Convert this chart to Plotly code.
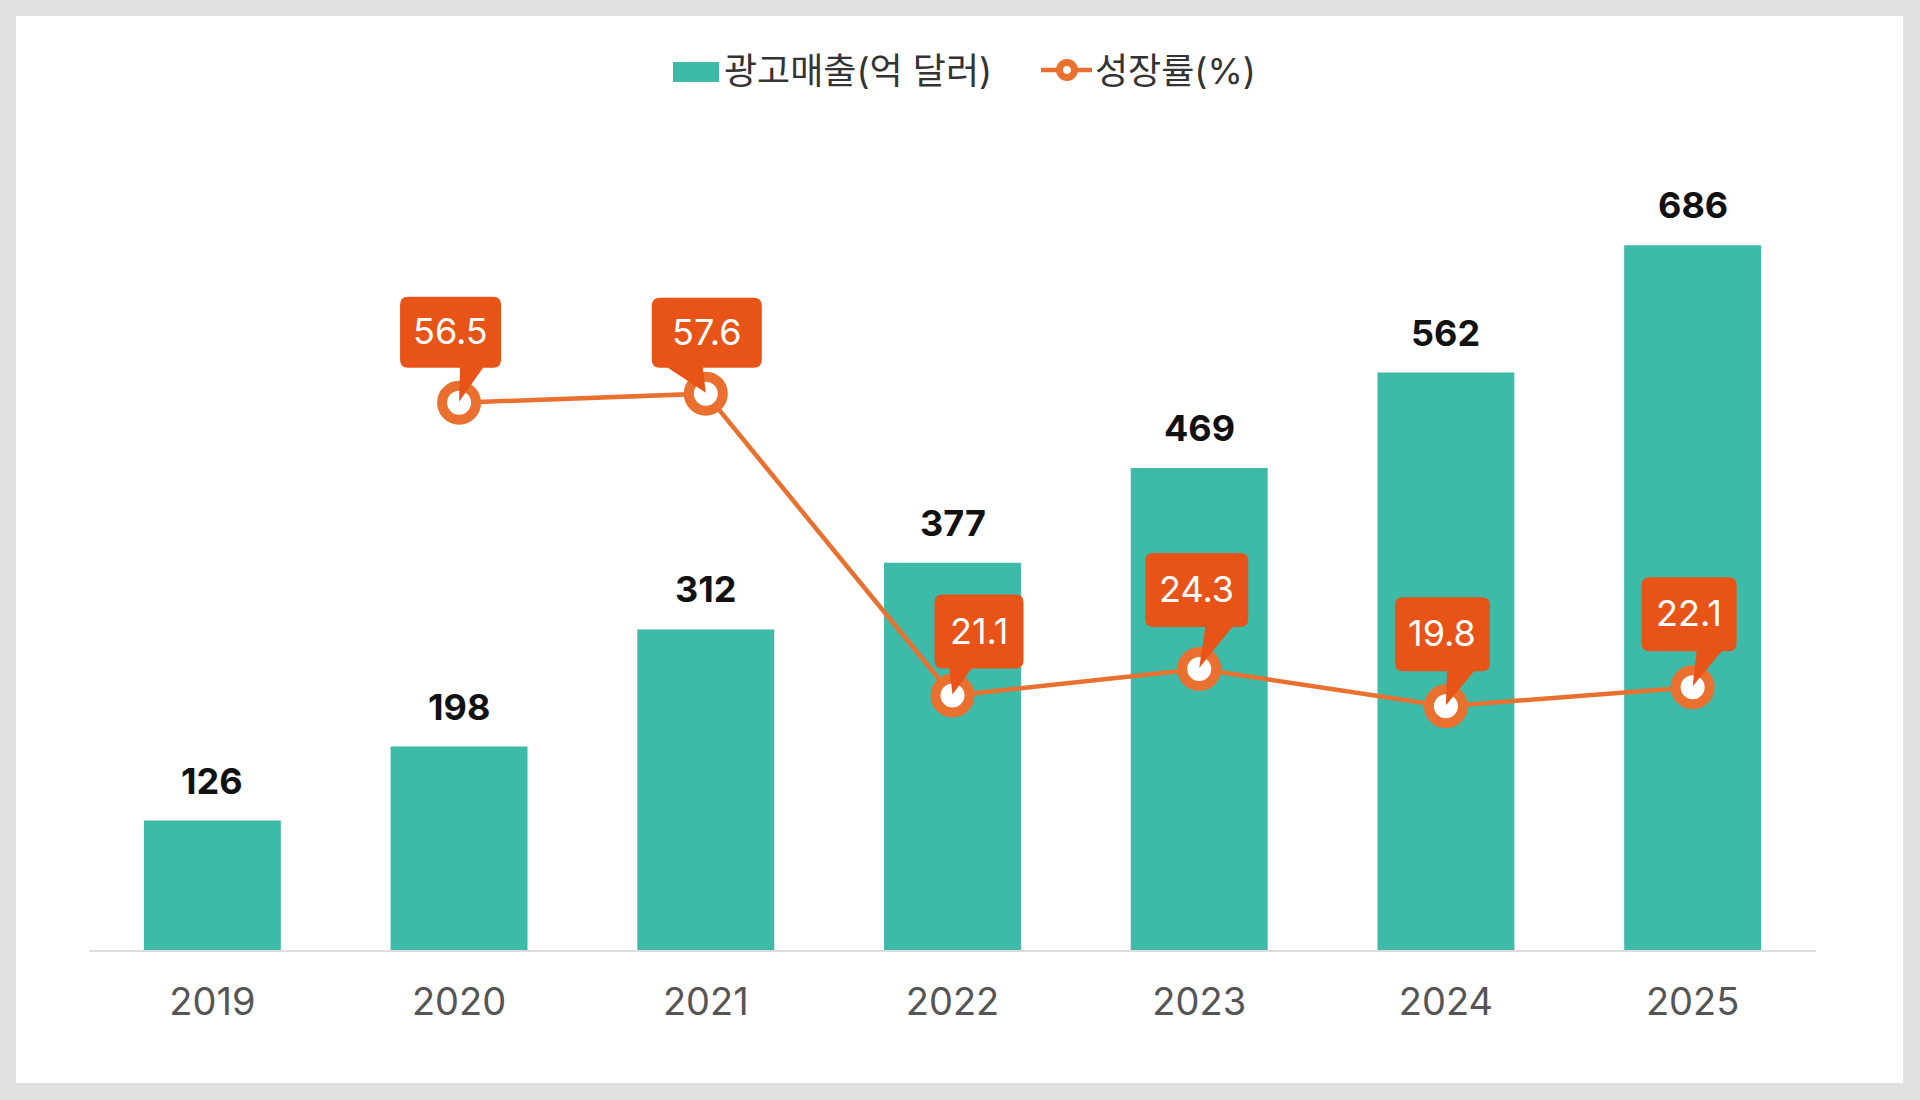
import plotly.graph_objects as go

# ---------------- data ----------------
years = ["2019", "2020", "2021", "2022", "2023", "2024", "2025"]
ad_revenue = [126, 198, 312, 377, 469, 562, 686]          # 광고매출(억 달러)
growth_rate = [None, 56.5, 57.6, 21.1, 24.3, 19.8, 22.1]  # 성장률(%)
bar_name = "광고매출(억 달러)"
line_name = "성장률(%)"

# ---------------- style / layout ----------------
W, H = 1920, 1100
ML, MR, MT, MB = 89, 104, 128, 150
PW, PH = W - ML - MR, H - MT - MB

TEAL = "#3dbaa8"
ORANGE = "#e9702f"
BOX = "#e85418"
FONT = "Inter, 'Noto Sans CJK KR', sans-serif"

# callout bubble geometry (pixels relative to the marker: left, right, bottom, top, pointer x0, pointer x1)
bubble = [None,
          (-59, 42, 35, 106, 1, 24),
          (-54, 56, 26, 96, -38, -3),
          (-18, 71, 27, 101, -3, 19),
          (-54, 49, 42, 116, 6, 33),
          (-51, 44, 35, 109, 1, 28),
          (-51, 44, 36, 110, 4, 29)]


def px(x):
    return (x - ML) / PW


def py(y):
    return (H - MB - y) / PH


xs = list(range(len(years)))

fig = go.Figure()
fig.add_trace(go.Bar(x=xs, y=ad_revenue, name=bar_name, marker=dict(color=TEAL, line=dict(width=0)),
                     hoverinfo="skip", showlegend=False))
fig.add_trace(go.Scatter(x=xs, y=growth_rate, name=line_name, yaxis="y2", mode="lines+markers",
                         line=dict(color=ORANGE, width=4.5),
                         marker=dict(size=34, color="white", line=dict(color=ORANGE, width=10)),
                         hoverinfo="skip", showlegend=False))

shapes = []
annotations = []

# white panel
shapes.append(dict(type="rect", xref="paper", yref="paper", x0=px(16), x1=px(1903), y0=py(1083), y1=py(16),
                   fillcolor="white", line=dict(width=0), layer="below"))

# bar value labels
for i, v in enumerate(ad_revenue):
    annotations.append(dict(x=i, y=v, xref="x", yref="y", text=str(v), showarrow=False,
                            yanchor="middle", yshift=40,
                            font=dict(family=FONT, size=36, color="#111111", weight="bold")))

# growth callouts
r = 8
for i, g in enumerate(growth_rate):
    if g is None:
        continue
    L, R, B, T, p0, p1 = bubble[i]
    path = (f"M{L + r},{B} L{p0},{B} L0,1 L{p1},{B} L{R - r},{B} Q{R},{B} {R},{B + r} "
            f"L{R},{T - r} Q{R},{T} {R - r},{T} L{L + r},{T} Q{L},{T} {L},{T - r} "
            f"L{L},{B + r} Q{L},{B} {L + r},{B} Z")
    shapes.append(dict(type="path", xref="x", yref="y2", xsizemode="pixel", ysizemode="pixel",
                       xanchor=i, yanchor=g, path=path, fillcolor=BOX, line=dict(width=0), layer="above"))
    annotations.append(dict(x=i, y=g, xref="x", yref="y2", text=f"{g:.1f}", showarrow=False,
                            xshift=(L + R) / 2, yshift=(B + T) / 2 + 1, yanchor="middle",
                            font=dict(family=FONT, size=36, color="white")))

# custom legend
shapes.append(dict(type="rect", xref="paper", yref="paper", x0=px(673), x1=px(719), y0=py(82), y1=py(62),
                   fillcolor=TEAL, line=dict(width=0)))
annotations.append(dict(xref="paper", yref="paper", x=px(722), y=py(71), text=bar_name, showarrow=False,
                        xanchor="left", yanchor="middle", font=dict(family=FONT, size=36, color="#333333")))
shapes.append(dict(type="line", xref="paper", yref="paper", x0=px(1041), x1=px(1092), y0=py(70), y1=py(70),
                   line=dict(color=ORANGE, width=4.5)))
shapes.append(dict(type="circle", xref="paper", yref="paper", xsizemode="pixel", ysizemode="pixel",
                   xanchor=px(1067), yanchor=py(70), x0=-7.5, x1=7.5, y0=-7.5, y1=7.5,
                   fillcolor="white", line=dict(color=ORANGE, width=7)))
annotations.append(dict(xref="paper", yref="paper", x=px(1093), y=py(71), text=line_name, showarrow=False,
                        xanchor="left", yanchor="middle", font=dict(family=FONT, size=36, color="#333333")))

fig.update_layout(
    width=W, height=H,
    margin=dict(l=ML, r=MR, t=MT, b=MB, pad=0),
    paper_bgcolor="#e1e1e1",
    plot_bgcolor="rgba(0,0,0,0)",
    bargap=0.445,
    showlegend=False,
    font=dict(family=FONT),
    xaxis=dict(range=[-0.5, len(years) - 0.5], tickmode="array", tickvals=xs, ticktext=years,
               showgrid=False, zeroline=False, showline=True, linecolor="#dddddd", linewidth=2,
               ticks="outside", ticklen=17, tickcolor="rgba(0,0,0,0)",
               tickfont=dict(family=FONT, size=38, color="#555555")),
    yaxis=dict(range=[0, 800], showgrid=False, zeroline=False, showticklabels=False, showline=False),
    yaxis2=dict(range=[-9.67, 89.72], overlaying="y", side="right", showgrid=False, zeroline=False,
                showticklabels=False, showline=False),
    shapes=shapes,
    annotations=annotations,
)

fig.write_html("out.html")
